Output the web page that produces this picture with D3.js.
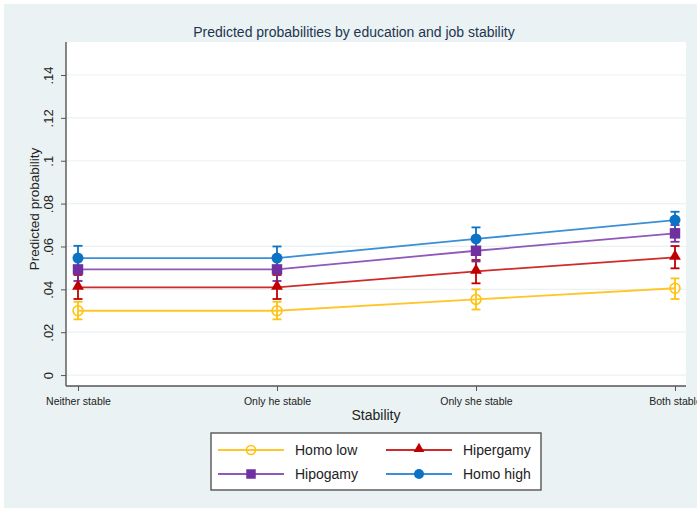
<!DOCTYPE html>
<html>
<head>
<meta charset="utf-8">
<script src="https://cdn.jsdelivr.net/npm/d3@7"></script>
<style>
  html, body { margin: 0; padding: 0; background: #ffffff; }
  svg { display: block; font-family: "Liberation Sans", Arial, sans-serif; }
</style>
</head>
<body>
<svg id="chart" width="697" height="508"></svg>
<script>
// Stability categories on the x axis
const categories = ["Neither stable", "Only he stable", "Only she stable", "Both stable"];

// Predicted probabilities per education pairing
const homoLow   = [0.0300, 0.0300, 0.0353, 0.0405];
const hipergamy = [0.0409, 0.0409, 0.0484, 0.0549];
const hipogamy  = [0.0493, 0.0493, 0.0580, 0.0661];
const homoHigh  = [0.0546, 0.0546, 0.0635, 0.0723];

// 95% confidence bounds
const homoLowLo   = [0.0260, 0.0260, 0.0306, 0.0355];
const homoLowHi   = [0.0342, 0.0342, 0.0400, 0.0451];
const hipergamyLo = [0.0355, 0.0355, 0.0428, 0.0498];
const hipergamyHi = [0.0467, 0.0467, 0.0537, 0.0602];
const hipogamyLo  = [0.0439, 0.0439, 0.0530, 0.0622];
const hipogamyHi  = [0.0547, 0.0547, 0.0630, 0.0700];
const homoHighLo  = [0.0490, 0.0490, 0.0580, 0.0680];
const homoHighHi  = [0.0603, 0.0600, 0.0689, 0.0762];

// Y axis tick values and their labels
const yTicks = [0, 0.02, 0.04, 0.06, 0.08, 0.10, 0.12, 0.14];
const yTickLabels = ["0", ".02", ".04", ".06", ".08", ".1", ".12", ".14"];

const seriesNames = ["Homo low", "Hipergamy", "Hipogamy", "Homo high"];

const series = [
  { name: seriesNames[0], values: homoLow, lo: homoLowLo, hi: homoLowHi,
    marker: "#ffc20e", line: "#ffc62a", shape: "hollow" },
  { name: seriesNames[1], values: hipergamy, lo: hipergamyLo, hi: hipergamyHi,
    marker: "#c00000", line: "#d02a2a", shape: "triangle" },
  { name: seriesNames[2], values: hipogamy, lo: hipogamyLo, hi: hipogamyHi,
    marker: "#7030a0", line: "#9158bb", shape: "square" },
  { name: seriesNames[3], values: homoHigh, lo: homoHighLo, hi: homoHighHi,
    marker: "#0b72c4", line: "#3a8fd6", shape: "circle" }
];

const svg = d3.select("#chart");

// outer graph region
svg.append("rect").attr("x", 4).attr("y", 4).attr("width", 693).attr("height", 504)
  .attr("fill", "#eaf2f3");

const plot = { left: 66, right: 686, top: 42, bottom: 386 };

svg.append("rect")
  .attr("x", plot.left).attr("y", plot.top)
  .attr("width", plot.right - plot.left).attr("height", plot.bottom - plot.top)
  .attr("fill", "#ffffff");

const x = d3.scalePoint().domain(categories).range([78, 675]);
const y = d3.scaleLinear().domain([-0.0051, 0.1554]).range([plot.bottom, plot.top]);

// horizontal grid lines
svg.append("g").selectAll("line").data(yTicks).join("line")
  .attr("x1", plot.left).attr("x2", plot.right)
  .attr("y1", d => y(d)).attr("y2", d => y(d))
  .attr("stroke", "#eaf2f3").attr("stroke-width", 1.2);

// Y axis
const yAxis = d3.axisLeft(y).tickValues(yTicks)
  .tickFormat((d, i) => yTickLabels[i]).tickSize(5).tickPadding(0);
const gy = svg.append("g").attr("transform", `translate(${plot.left},0)`).call(yAxis);
gy.select(".domain").attr("stroke", "#555").attr("stroke-width", 1.4)
  .attr("d", `M0,${plot.top}V${plot.bottom}`);
gy.selectAll(".tick line").attr("stroke", "#555").attr("stroke-width", 1);
gy.selectAll(".tick text")
  .attr("x", 0).attr("dy", null)
  .attr("transform", "translate(-13,0) rotate(-90)")
  .attr("text-anchor", "middle")
  .attr("font-size", 13).attr("fill", "#222")
  .attr("font-family", "Liberation Sans, Arial, sans-serif");

// X axis
const xAxis = d3.axisBottom(x).tickSize(5).tickPadding(7);
const gx = svg.append("g").attr("transform", `translate(0,${plot.bottom})`).call(xAxis);
gx.select(".domain").attr("stroke", "#555").attr("stroke-width", 1.4)
  .attr("d", `M${plot.left},0H${plot.right}`);
gx.selectAll(".tick line").attr("stroke", "#555").attr("stroke-width", 1);
gx.selectAll(".tick text")
  .attr("font-size", 10.5).attr("fill", "#222")
  .attr("font-family", "Liberation Sans, Arial, sans-serif");

// titles
svg.append("text").attr("x", 354).attr("y", 37).attr("text-anchor", "middle")
  .attr("font-size", 14).attr("fill", "#1e3550")
  .text("Predicted probabilities by education and job stability");

svg.append("text").attr("x", 376).attr("y", 420).attr("text-anchor", "middle")
  .attr("font-size", 14).attr("fill", "#222").text("Stability");

svg.append("text")
  .attr("transform", `translate(39,${(plot.top + plot.bottom) / 2 - 5}) rotate(-90)`)
  .attr("text-anchor", "middle").attr("font-size", 13.5).attr("fill", "#222")
  .text("Predicted probability");

// marker drawing
function drawMarker(g, s, cx, cy, size) {
  if (s.shape === "hollow") {
    g.append("circle").attr("cx", cx).attr("cy", cy).attr("r", size * 0.9)
      .attr("fill", "none").attr("stroke", s.marker).attr("stroke-width", 1.6);
  } else if (s.shape === "circle") {
    g.append("circle").attr("cx", cx).attr("cy", cy).attr("r", size)
      .attr("fill", s.marker);
  } else if (s.shape === "square") {
    const h = size * 0.95;
    g.append("rect").attr("x", cx - h).attr("y", cy - h)
      .attr("width", 2 * h).attr("height", 2 * h).attr("fill", s.marker);
  } else if (s.shape === "triangle") {
    const tri = d3.symbol().type(d3.symbolTriangle).size(size * size * 2.0);
    g.append("path").attr("d", tri()).attr("transform", `translate(${cx},${cy - 1})`)
      .attr("fill", s.marker);
  }
}

const plotG = svg.append("g");

// confidence intervals
series.forEach(s => {
  const g = plotG.append("g");
  categories.forEach((c, i) => {
    const cx = x(c);
    g.append("line").attr("x1", cx).attr("x2", cx)
      .attr("y1", y(s.lo[i])).attr("y2", y(s.hi[i]))
      .attr("stroke", s.marker).attr("stroke-width", 1.8);
    [s.lo[i], s.hi[i]].forEach(v => {
      g.append("line").attr("x1", cx - 4.5).attr("x2", cx + 4.5)
        .attr("y1", y(v)).attr("y2", y(v))
        .attr("stroke", s.marker).attr("stroke-width", 1.8);
    });
  });
});

// connected lines with markers
const line = d3.line().x((d, i) => x(categories[i])).y(d => y(d));
series.forEach(s => {
  plotG.append("path").attr("d", line(s.values))
    .attr("fill", "none").attr("stroke", s.line).attr("stroke-width", 1.8);
  const g = plotG.append("g");
  s.values.forEach((v, i) => drawMarker(g, s, x(categories[i]), y(v), 5.5));
});

// legend
const legend = svg.append("g");
legend.append("rect").attr("x", 211).attr("y", 433).attr("width", 330).attr("height", 57)
  .attr("fill", "#ffffff").attr("stroke", "#555").attr("stroke-width", 1.4);

const legendOrder = [
  { s: series[0], lx: 218, ty: 450 },
  { s: series[1], lx: 386, ty: 450 },
  { s: series[2], lx: 218, ty: 474 },
  { s: series[3], lx: 386, ty: 474 }
];
legendOrder.forEach(({ s, lx, ty }) => {
  legend.append("line").attr("x1", lx).attr("x2", lx + 66).attr("y1", ty).attr("y2", ty)
    .attr("stroke", s.line).attr("stroke-width", 1.8);
  drawMarker(legend, s, lx + 33, ty, 5.0);
  legend.append("text").attr("x", lx + 77).attr("y", ty + 5)
    .attr("font-size", 14).attr("fill", "#222").text(s.name);
});
</script>
</body>
</html>
